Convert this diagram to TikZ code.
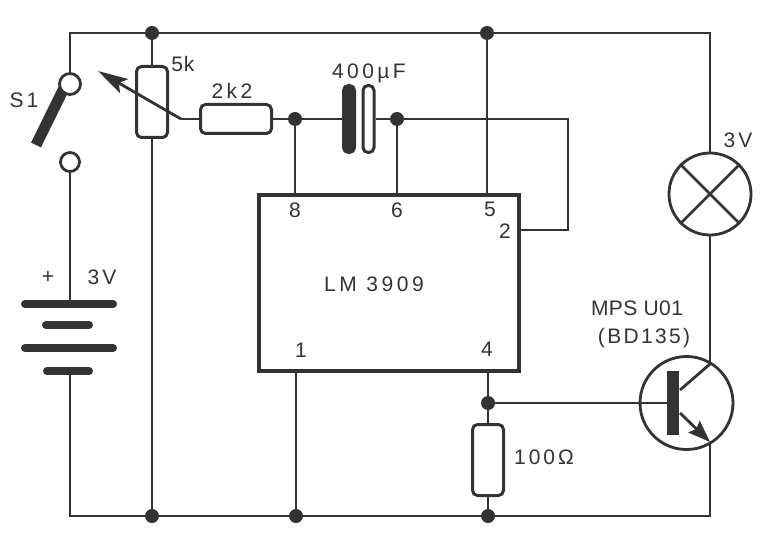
\documentclass[tikz,border=0pt]{standalone}
\usepackage{fontspec}
\setmainfont{Liberation Sans}
\usetikzlibrary{arrows.meta}
\definecolor{ink}{gray}{0.2}
\tikzset{
  wire/.style={draw=ink,line width=2.8pt},
  dotj/.style={circle,fill=ink,draw=none,inner sep=0pt,minimum size=14pt},
  res/.style={draw=ink,line width=3pt,rounded corners=5pt,fill=white,inner sep=0pt},
  ring/.style={circle,draw=ink,line width=2.8pt,fill=white,inner sep=0pt},
  lab/.style={text=ink,inner sep=0pt,font=\fontsize{21}{23}\selectfont\addfontfeature{LetterSpace=#1}},
  lab/.default=6,
  batt/.style={draw=ink,line width=8pt,line cap=round},
}
\begin{document}
\begin{tikzpicture}[x=1pt,y=-1pt]
\useasboundingbox (0,0) rectangle (778,545);
\fill[white] (0,0) rectangle (778,545);
% corners
\coordinate (tl) at (70,33);
\coordinate (tr) at (710,33);
\coordinate (bl) at (70,516);
\coordinate (br) at (710,516);
\coordinate (fb) at (568,119);
\coordinate (fb2) at (568,230);
\coordinate (wk) at (181,119);
\coordinate (wtip) at (98,71);
\coordinate (c1) at (710,364);
\coordinate (c0) at (680,390);
\coordinate (e1) at (710,442);
\coordinate (e0) at (680,413);
\coordinate (batTop) at (70,304);
\coordinate (batBot) at (70,371);
\coordinate (pin2) at (519,230);
\coordinate (pin8) at (295,195);
\coordinate (pin6) at (397,195);
\coordinate (pin5) at (487,195);
\coordinate (pin1) at (296,371);
\coordinate (pin4) at (488,371);
\coordinate (swpivot) at (66,84);
\coordinate (swend) at (36,145);
% junctions
\node[dotj] (j1) at (152,33) {};
\node[dotj] (j2) at (487,33) {};
\node[dotj] (j3) at (295,119) {};
\node[dotj] (j4) at (397,119) {};
\node[dotj] (j5) at (488,403) {};
\node[dotj] (j6) at (152,516) {};
\node[dotj] (j7) at (296,516) {};
\node[dotj] (j8) at (488,516) {};
% switch blade
\draw[draw=ink,line width=11pt] (swpivot) -- (swend);
% components
\node[ring,minimum size=21pt] (s1) at (70,84) {};
\node[ring,minimum size=19pt] (s2) at (70,162) {};
\node[res,minimum width=31pt,minimum height=71pt] (pot) at (152,102) {};
\node[res,minimum width=71pt,minimum height=29pt] (r1) at (236,119) {};
\node[res,minimum width=31pt,minimum height=71pt] (r2) at (488,460) {};
\node[res,rounded corners=5pt,fill=ink,minimum width=11pt,minimum height=67pt] (capa) at (349,119) {};
\node[res,rounded corners=5pt,minimum width=11pt,minimum height=67pt] (capb) at (368.5,119) {};
\node[draw=ink,line width=4.5pt,fill=white,minimum width=260pt,minimum height=176pt,inner sep=0pt] (ic) at (389,283) {};
\node[ring,minimum size=82pt] (lamp) at (710,194) {};
\node[ring,minimum size=93pt] (q) at (686.5,403) {};
\node[fill=ink,minimum width=12pt,minimum height=64pt,inner sep=0pt] (qbar) at (673,403) {};
% wires
\draw[wire] (s1.north) -- (tl) -- (tr) -- (lamp.north);
\draw[wire] (lamp.south) -- (c1);
\draw[wire] (c1) -- (c0);
\draw[wire] (e1) -- (br) -- (bl) -- (batBot);
\draw[wire] (batTop) -- (s2.south);
\draw[wire] (j1.center) -- (pot.north);
\draw[wire] (pot.south) -- (j6.center);
\draw[wire] (r1.east) -- (j3.center) -- (capa.west);
\draw[wire] (capb.east) -- (j4.center) -- (fb) -- (fb2) -- (pin2);
\draw[wire] (j3.center) -- (pin8);
\draw[wire] (j4.center) -- (pin6);
\draw[wire] (j2.center) -- (pin5);
\draw[wire] (pin1) -- (j7.center);
\draw[wire] (pin4) -- (j5.center) -- (r2.north);
\draw[wire] (r2.south) -- (j8.center);
\draw[wire] (j5.center) -- (qbar.west);
\draw[wire] (r1.west) -- (wk);
\draw[wire,-{Stealth[length=30pt,width=16pt,inset=6pt]}] (wk) -- (wtip);
\draw[wire,-{Stealth[length=22pt,width=16pt,inset=3pt]}] (e0) -- (e1);
% lamp cross
\draw[wire] (lamp.north west) -- (lamp.south east);
\draw[wire] (lamp.north east) -- (lamp.south west);
% battery
\draw[batt] (25,304) -- (113,304);
\draw[batt] (46,325) -- (89,325);
\draw[batt] (25,348) -- (113,348);
\draw[batt] (47,371) -- (89,371);
% labels
\node[lab=14] (tS1) at (24,100) {S1};
\node[lab=4] (t5k) at (183,64) {5k};
\node[lab=14] (t2k2) at (232,91) {2\,k\,2};
\node[lab=16] (t400) at (369,73) {400\,µF};
\node[lab=14] (t3V) at (738,140) {3V};
\node[lab=0] (t8) at (295,210) {8};
\node[lab=0] (t6) at (397,210) {6};
\node[lab=0] (t5) at (490,209) {5};
\node[lab=0] (t2) at (505,231) {2};
\node[lab=17] (tLM) at (374,284) {LM 3909};
\node[lab=0] (t1) at (301,350) {1};
\node[lab=0] (t4) at (487,349) {4};
\node[lab=2] (tMPS) at (637,308) {MPS U01};
\node[lab=11] (tBD) at (644,338) {(BD135)};
\node[lab=14] (t100) at (544,457) {100Ω};
\node[lab=0] (tplus) at (48,277) {+};
\node[lab=14] (t3V2) at (102,277) {3V};
\end{tikzpicture}
\end{document}
